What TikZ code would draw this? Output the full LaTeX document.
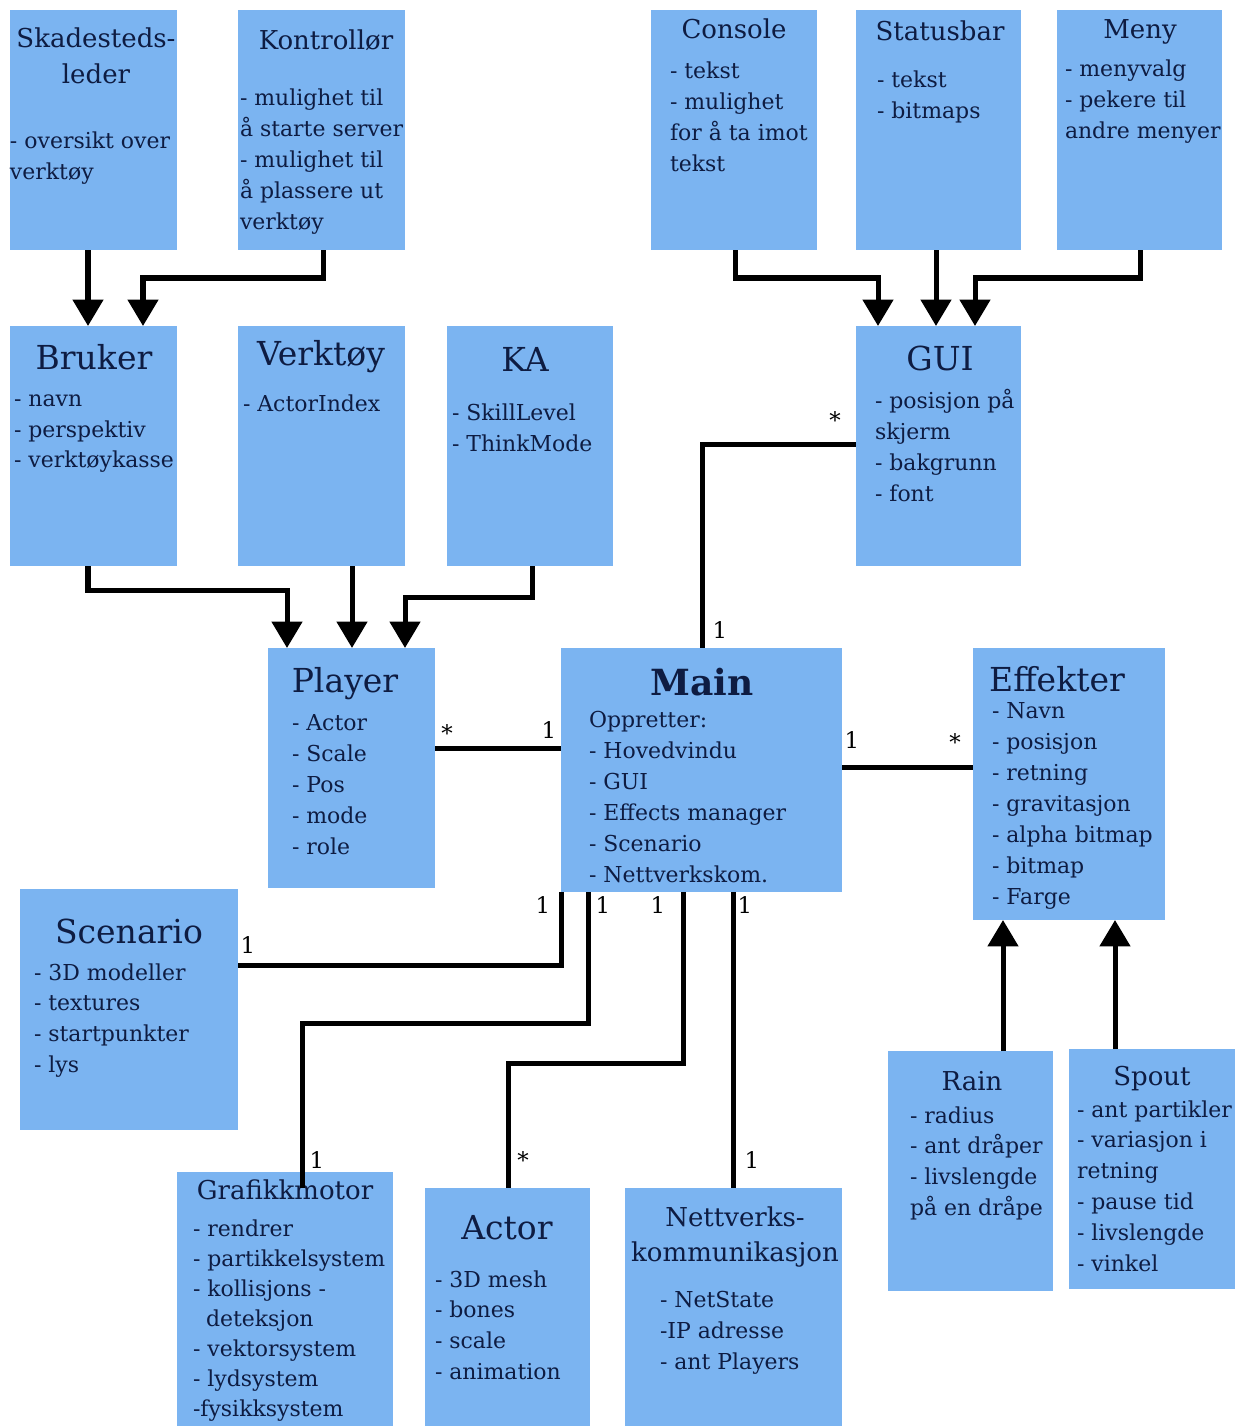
\documentclass[tikz,border=0pt]{standalone}
\usepackage{fontspec}
\setmainfont{DejaVu Serif}
\usetikzlibrary{arrows.meta,calc}
\definecolor{boxblue}{RGB}{123,180,241}
\definecolor{ink}{RGB}{14,28,66}
\tikzset{
  cls/.style={fill=boxblue, draw=none, inner sep=0pt, outer sep=0pt},
  lst/.style={inner sep=0pt, outer sep=0pt, align=left, text=ink,
    font=\fontsize{12.5pt}{17.64pt}\selectfont, execute at begin node=\strut},
  ttl/.style={inner sep=0pt, outer sep=0pt, align=center, text=ink,
    font=\fontsize{18.8pt}{22.76pt}\selectfont, execute at begin node=\strut},
  mttl/.style={inner sep=0pt, outer sep=0pt, align=center, text=ink,
    font=\fontsize{14.8pt}{19.9pt}\selectfont, execute at begin node=\strut},
  mult/.style={inner sep=0pt, text=black, font=\fontsize{13pt}{15pt}\selectfont},
  conn/.style={line width=2.85pt, black},
  arr/.style={conn, -{Triangle[width=17pt,length=15pt]}},
}
\newcommand\cbox[5]{\node[cls, minimum width={(#4-#2)*0.02cm}, minimum height={(#5-#3)*0.02cm}] (#1) at ({(#2+#4)/2},{(#3+#5)/2}) {};}
\newcommand\blist[4]{\node[lst, anchor=north west] (#1) at (#2,#3-15.7) {#4};}
\newcommand\btitle[4]{\node[ttl, anchor=north] (#1) at (#2,#3-28) {#4};}
\newcommand\mtitle[4]{\node[mttl, anchor=north] (#1) at (#2,#3-24.5) {#4};}
\begin{document}
\begin{tikzpicture}[x=0.02cm, y=-0.02cm]
\useasboundingbox[fill=white] (0,0) rectangle (1244,1426);
% boxes
\cbox{skade}{10}{10}{177}{250}
\cbox{kontr}{238}{10}{405}{250}
\cbox{console}{651}{10}{817}{250}
\cbox{status}{856}{10}{1021}{250}
\cbox{meny}{1057}{10}{1222}{250}
\cbox{bruker}{10}{326}{177}{566}
\cbox{verkt}{238}{326}{405}{566}
\cbox{ka}{447}{326}{613}{566}
\cbox{gui}{856}{326}{1021}{566}
\cbox{player}{268}{648}{435}{888}
\cbox{main}{561}{648}{842}{892}
\cbox{eff}{973}{648}{1165}{920}
\cbox{scen}{20}{889}{238}{1130}
\cbox{graf}{177}{1172}{393}{1426}
\cbox{actor}{425}{1188}{590}{1426}
\cbox{nett}{625}{1188}{842}{1426}
\cbox{rain}{888}{1051}{1053}{1291}
\cbox{spout}{1069}{1049}{1235}{1289}
% texts
\node[mttl, anchor=north, font=\fontsize{14.8pt}{20.5pt}\selectfont] (skadeT) at (96,53-25.5) {Skadesteds-\\leder};
\blist{skadeL}{10}{148}{- oversikt over\\verktøy}
\mtitle{kontrT}{326}{50}{Kontrollør}
\blist{kontrL}{240}{105}{- mulighet til\\å starte server\\- mulighet til\\å plassere ut\\verktøy}
\mtitle{consoleT}{734}{39}{Console}
\blist{consoleL}{670}{78}{- tekst\\- mulighet\\for å ta imot\\tekst}
\mtitle{statusT}{940}{41}{Statusbar}
\blist{statusL}{877}{87}{- tekst\\- bitmaps}
\mtitle{menyT}{1140}{39}{Meny}
\blist{menyL}{1065}{76}{- menyvalg\\- pekere til\\andre menyer}
\btitle{brukerT}{94}{370}{Bruker}
\blist{brukerL}{14}{410}{- navn\\- perspektiv\\- verktøykasse}
\btitle{verktT}{321}{366}{Verktøy}
\blist{verktL}{243}{406}{- ActorIndex}
\btitle{kaT}{525}{372}{KA}
\blist{kaL}{452}{420}{- SkillLevel\\- ThinkMode}
\btitle{guiT}{940}{371}{GUI}
\blist{guiL}{875}{405}{- posisjon på\\skjerm\\- bakgrunn\\- font}
\btitle{playerT}{345}{693}{Player}
\blist{playerL}{292}{730}{- Actor\\- Scale\\- Pos\\- mode\\- role}
\node[inner sep=0pt, outer sep=0pt, text=ink, font=\fontsize{20.5pt}{22.76pt}\selectfont\bfseries, execute at begin node=\strut, anchor=north] (mainT) at (702,696-28) {Main};
\blist{mainL}{589}{727}{Oppretter:\\- Hovedvindu\\- GUI\\- Effects manager\\- Scenario\\- Nettverkskom.}
\btitle{effT}{1057}{692}{Effekter}
\blist{effL}{992}{718}{- Navn\\- posisjon\\- retning\\- gravitasjon\\- alpha bitmap\\- bitmap\\- Farge}
\btitle{scenT}{129}{943}{Scenario}
\blist{scenL}{34}{979}{- 3D modeller\\- textures\\- startpunkter\\- lys}
\mtitle{grafT}{285}{1200}{Grafikkmotor}
\node[lst, anchor=north west, font=\fontsize{12.5pt}{17.07pt}\selectfont] (grafL) at (193,1235-15.2) {- rendrer\\- partikkelsystem\\- kollisjons -\\\hspace*{7.4pt}deteksjon\\- vektorsystem\\- lydsystem\\-fysikksystem};
\btitle{actorT}{507}{1239}{Actor}
\blist{actorL}{435}{1286}{- 3D mesh\\- bones\\- scale\\- animation}
\mtitle{nettT}{735}{1231}{Nettverks-\\kommunikasjon}
\blist{nettL}{660}{1307}{- NetState\\-IP adresse\\- ant Players}
\mtitle{rainT}{972}{1091}{Rain}
\blist{rainL}{910}{1122}{- radius\\- ant dråper\\- livslengde\\på en dråpe}
\mtitle{spoutT}{1152}{1086}{Spout}
\blist{spoutL}{1077}{1116}{- ant partikler\\- variasjon i\\retning\\- pause tid\\- livslengde\\- vinkel}
% connectors
\draw[arr] ($(skade.south west)+(78,0)$) -- ($(bruker.north west)+(78,0)$);
\draw[arr] ($(kontr.south west)+(85,0)$) -- ++(0,28) -| ($(bruker.north west)+(133,0)$);
\draw[arr] ($(console.south west)+(84,0)$) -- ++(0,28) -| ($(gui.north west)+(22,0)$);
\draw[arr] ($(status.south west)+(80,0)$) -- ($(gui.north west)+(80,0)$);
\draw[arr] ($(meny.south west)+(83,0)$) -- ++(0,28) -| ($(gui.north west)+(119,0)$);
\draw[arr] ($(bruker.south west)+(78,0)$) -- ++(0,24) -| ($(player.north west)+(19,0)$);
\draw[arr] ($(verkt.south west)+(114,0)$) -- ($(player.north west)+(84,0)$);
\draw[arr] ($(ka.south west)+(85,0)$) -- ++(0,31) -| ($(player.north west)+(137,0)$);
\draw[conn] ($(gui.north west)+(0,118)$) -| ($(main.north west)+(141,0)$);
\draw[conn] ($(player.north east)+(0,100)$) -- ($(main.north west)+(0,100)$);
\draw[conn] ($(main.north east)+(0,119)$) -- ($(eff.north west)+(0,119)$);
\draw[arr] ($(rain.north west)+(115,0)$) -- ($(eff.south west)+(30,0)$);
\draw[arr] ($(spout.north west)+(46,0)$) -- ($(eff.south west)+(142,0)$);
\draw[conn] (main.south west) |- ($(scen.north east)+(0,76)$);
\draw[conn] ($(main.south west)+(27,0)$) -- ++(0,131) -| ($(graf.north west)+(125,16)$);
\draw[conn] ($(main.south west)+(122,0)$) -- ++(0,171) -| ($(actor.north west)+(83,0)$);
\draw[conn] ($(main.south west)+(172,0)$) -- ($(nett.north west)+(108,0)$);
% multiplicities
\node[mult] (m1) at (835,420) {*};
\node[mult] (m2) at (720,630) {1};
\node[mult] (m3) at (447,733) {*};
\node[mult] (m4) at (549,730) {1};
\node[mult] (m5) at (852,740) {1};
\node[mult] (m6) at (955,742) {*};
\node[mult] (m7) at (543,905) {1};
\node[mult] (m8) at (603,905) {1};
\node[mult] (m9) at (658,905) {1};
\node[mult] (m10) at (745,905) {1};
\node[mult] (m11) at (248,945) {1};
\node[mult] (m12) at (317,1160) {1};
\node[mult] (m13) at (523,1160) {*};
\node[mult] (m14) at (752,1160) {1};
\end{tikzpicture}
\end{document}
